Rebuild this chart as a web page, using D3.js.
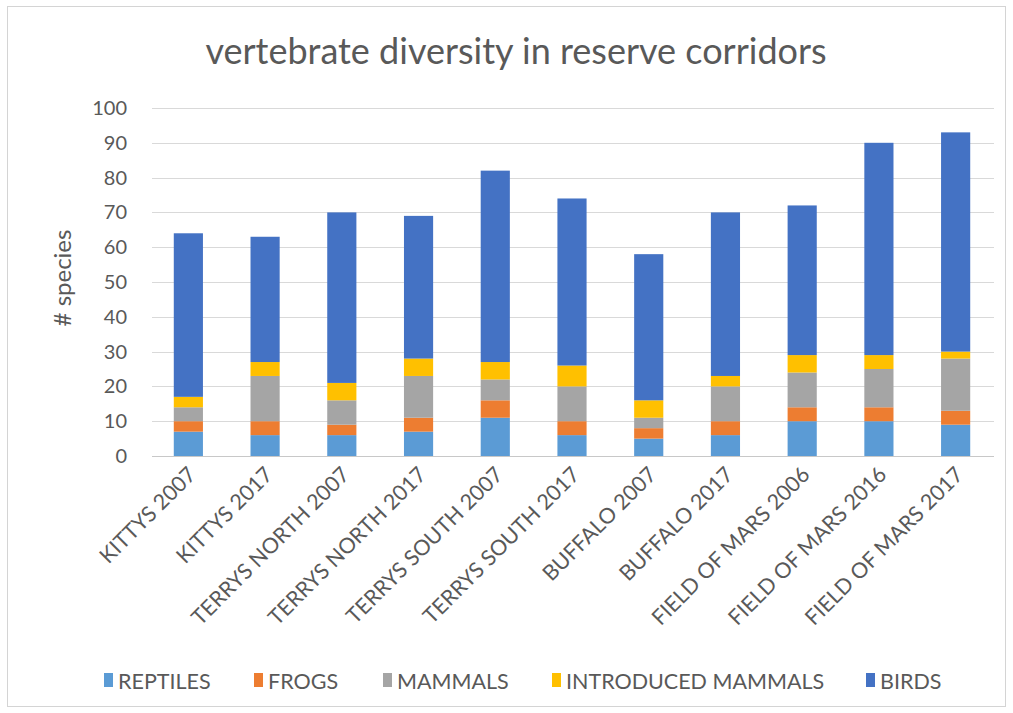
<!DOCTYPE html>
<html>
<head>
<meta charset="utf-8">
<script src="https://cdn.jsdelivr.net/npm/d3@7"></script>
<style>
  html, body { margin: 0; padding: 0; background: #fff; }
  svg { display: block; }
  text { font-family: Lato, "Open Sans", sans-serif; fill: #595959; }
</style>
</head>
<body>
<svg id="chart" width="1013" height="713"></svg>
<script>
const categories = ["KITTYS 2007","KITTYS 2017","TERRYS NORTH 2007","TERRYS NORTH 2017","TERRYS SOUTH 2007","TERRYS SOUTH 2017","BUFFALO 2007","BUFFALO 2017","FIELD OF MARS 2006","FIELD OF MARS 2016","FIELD OF MARS 2017"];
const seriesNames = ["REPTILES","FROGS","MAMMALS","INTRODUCED MAMMALS","BIRDS"];
const reptiles   = [7, 6, 6, 7, 11, 6, 5, 6, 10, 10, 9];
const frogs      = [3, 4, 3, 4, 5, 4, 3, 4, 4, 4, 4];
const mammals    = [4, 13, 7, 12, 6, 10, 3, 10, 10, 11, 15];
const introduced = [3, 4, 5, 5, 5, 6, 5, 3, 5, 4, 2];
const birds      = [47, 36, 49, 41, 55, 48, 42, 47, 43, 61, 63];
const yTicks = [0,10,20,30,40,50,60,70,80,90,100];
const colors = ["#5B9BD5","#ED7D31","#A5A5A5","#FFC000","#4472C4"];

const svg = d3.select("#chart");
const W = 1013, H = 713;

// outer frame
svg.append("rect").attr("x", 7.5).attr("y", 6.5).attr("width", W - 15).attr("height", H - 13)
  .attr("fill", "#fff").attr("stroke", "#d4d4d4").attr("stroke-width", 1);

const rows = categories.map((c, i) => ({
  cat: c, REPTILES: reptiles[i], FROGS: frogs[i], MAMMALS: mammals[i],
  "INTRODUCED MAMMALS": introduced[i], BIRDS: birds[i]
}));

const x = d3.scaleBand().domain(categories).range([150, 994]).paddingInner(0.62).paddingOuter(0.31);
const y = d3.scaleLinear().domain([0, 100]).range([456, 108]);

// gridlines
svg.append("g").selectAll("line").data(yTicks).join("line")
  .attr("x1", 152).attr("x2", 994)
  .attr("y1", d => Math.round(y(d)) + 0.5).attr("y2", d => Math.round(y(d)) + 0.5)
  .attr("stroke", d => d === 0 ? "#c8c8c8" : "#d9d9d9").attr("stroke-width", 1);

// y tick labels
svg.append("g").selectAll("text").data(yTicks).join("text")
  .attr("x", 127).attr("y", d => y(d)).attr("dy", "0.35em")
  .attr("text-anchor", "end").attr("font-size", 20).text(d => d);

// stacked bars
const stack = d3.stack().keys(seriesNames)(rows);
svg.append("g").selectAll("g").data(stack).join("g")
  .attr("fill", (d, i) => colors[i])
  .selectAll("rect").data(d => d).join("rect")
  .attr("x", d => x(d.data.cat))
  .attr("width", x.bandwidth())
  .attr("y", d => y(d[1]))
  .attr("height", d => y(d[0]) - y(d[1]));

// x labels
svg.append("g").selectAll("text").data(categories).join("text")
  .attr("transform", d => `translate(${x(d) + x.bandwidth() / 2 + 9},${476}) rotate(-45)`)
  .attr("text-anchor", "end").attr("font-size", 21.5).text(d => d);

// y axis title
svg.append("text")
  .attr("transform", `translate(71,${y(50) - 4}) rotate(-90)`)
  .attr("text-anchor", "middle").attr("font-size", 24).text("# species");

// title
svg.append("text").attr("x", 516).attr("y", 64).attr("text-anchor", "middle")
  .attr("font-size", 36).text("vertebrate diversity in reserve corridors");

// legend
const legendX = [104, 254, 383, 552, 866];
const lg = svg.append("g").selectAll("g").data(seriesNames).join("g")
  .attr("transform", (d, i) => `translate(${legendX[i]},680)`);
lg.append("rect").attr("x", 0).attr("y", -7).attr("width", 9).attr("height", 14)
  .attr("fill", (d, i) => colors[i]);
lg.append("text").attr("x", 14).attr("y", 1).attr("dy", "0.35em")
  .attr("font-size", 21.5).text(d => d);
</script>
</body>
</html>
